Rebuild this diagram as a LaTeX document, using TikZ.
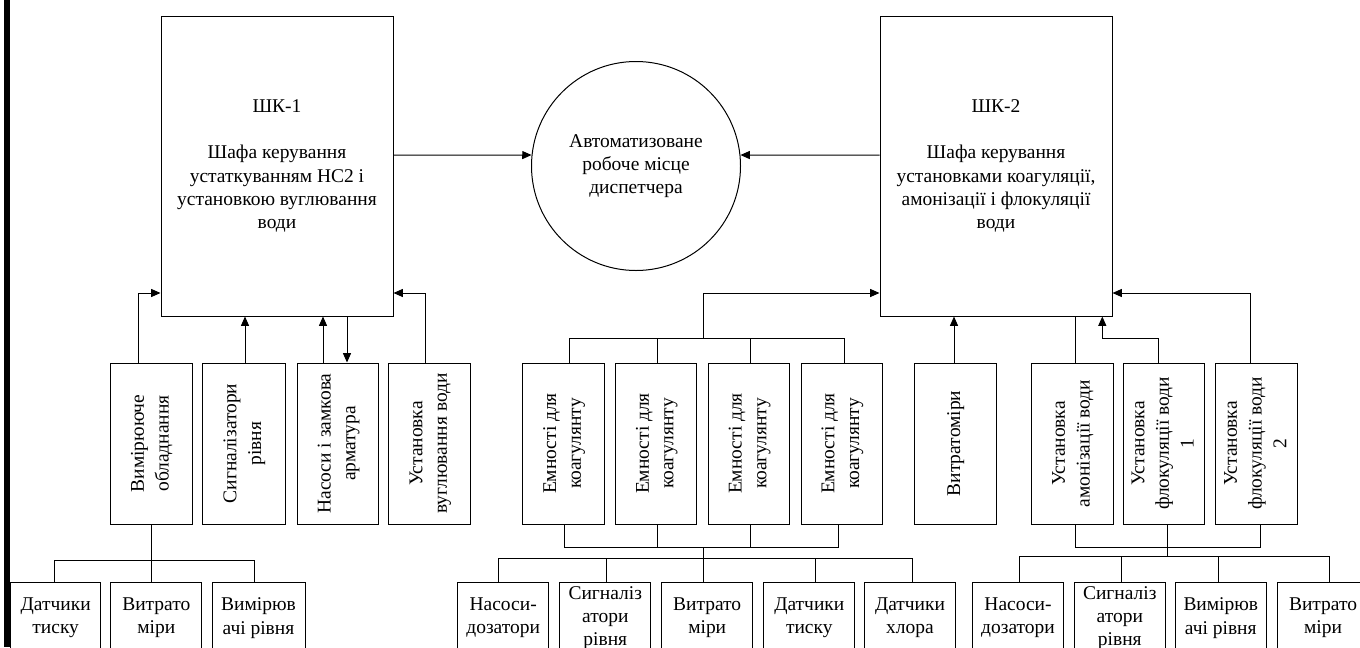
\documentclass[tikz,border=0pt]{standalone}
\usepackage{fontspec}
\usepackage{graphicx}
\setmainfont{Liberation Serif}
\usetikzlibrary{arrows.meta}
\tikzset{
  txt/.style={font=\fontsize{14.6}{17.5}\selectfont},
  bx/.style 2 args={draw, line width=0.75pt, minimum width=#1*0.75pt, minimum height=#2*0.75pt, inner sep=0pt, align=center, txt},
  ln/.style={line width=0.75pt},
  arr/.style={ln, -{Triangle[length=7pt,width=6pt]}},
}
\newcommand{\vtxt}[1]{\rotatebox{90}{\fontsize{14.6}{18.5}\selectfont\begin{tabular}{@{}c@{}}#1\end{tabular}}}
\begin{document}
\begin{tikzpicture}[x=0.75pt,y=-0.75pt]
\useasboundingbox (0,0) rectangle (1360,647);
\clip (0,0) rectangle (1360,647);
\fill (4.3,0) rectangle (10,647);

% top row
\node[bx={232}{300}] (shk1) at (277,166) {ШК-1\\[17.5pt]Шафа керування\\устаткуванням НС2 і\\установкою вуглювання\\води};
\node[draw, ln, circle, minimum size=209*0.75pt, inner sep=0pt, align=center, txt] (circ) at (636,166) {Автоматизоване\\робоче місце\\диспетчера};
\node[bx={232}{300}] (shk2) at (996,166) {ШК-2\\[17.5pt]Шафа керування\\установками коагуляції,\\амонізації і флокуляції\\води};

% middle row
\node[bx={81.5}{161}] (m1) at (151.3,443.5) {\vtxt{Вимірююче\\обладнання}};
\node[bx={83.5}{161}] (m2) at (243.8,443.5) {\vtxt{Сигналізатори\\рівня}};
\node[bx={81.5}{161}] (m3) at (338,443.5) {\vtxt{Насоси і замкова\\арматура}};
\node[bx={81.5}{161}] (m4) at (429.7,443.5) {\vtxt{Установка\\вуглювання води}};
\node[bx={81.5}{161}] (e1) at (563.5,443.5) {\vtxt{Емності для\\коагулянту}};
\node[bx={81.5}{161}] (e2) at (656.2,443.5) {\vtxt{Емності для\\коагулянту}};
\node[bx={81.5}{161}] (e3) at (749,443.5) {\vtxt{Емності для\\коагулянту}};
\node[bx={81.5}{161}] (e4) at (841.8,443.5) {\vtxt{Емності для\\коагулянту}};
\node[bx={81.5}{161}] (vm) at (955.3,443.5) {\vtxt{Витратоміри}};
\node[bx={81.5}{161}] (am) at (1072.3,443.5) {\vtxt{Установка\\амонізації води}};
\node[bx={81.5}{161}] (f1) at (1164,443.5) {\vtxt{Установка\\флокуляції води\\1}};
\node[bx={81.5}{161}] (f2) at (1256.7,443.5) {\vtxt{Установка\\флокуляції води\\2}};

% bottom row
\node[bx={90}{72}] (b1) at (55.7,618) {Датчики\\тиску};
\node[bx={90.7}{72}] (b2) at (156.3,618) {Витрато\\міри};
\node[bx={93}{72}] (b3) at (258.5,618) {Вимірюв\\ачі рівня};
\node[bx={91}{72}] (c1) at (503.2,618) {Насоси-\\дозатори};
\node[bx={91}{72}] (c2) at (605.3,618) {Сигналіз\\атори\\рівня};
\node[bx={91}{72}] (c3) at (707.2,618) {Витрато\\міри};
\node[bx={91}{72}] (c4) at (809.3,618) {Датчики\\тиску};
\node[bx={91}{72}] (c5) at (910,618) {Датчики\\хлора};
\node[bx={91}{72}] (d1) at (1018,618) {Насоси-\\дозатори};
\node[bx={91}{72}] (d2) at (1119.8,618) {Сигналіз\\атори\\рівня};
\node[bx={91}{72}] (d3) at (1220.8,618) {Вимірюв\\ачі рівня};
\node[bx={91}{72}] (d4) at (1323,618) {Витрато\\міри};

% top connectors
\draw[arr] (shk1.east |- 0,155) -- (circ.174);
\draw[arr] (shk2.west |- 0,155) -- (circ.6);

% left group
\draw[arr] (m1.north -| 138,0) |- (shk1.west |- 0,293);
\draw[arr] (m2.north -| 245,0) -- (shk1.south -| 245,0);
\draw[arr] (m3.north -| 323,0) -- (shk1.south -| 323,0);
\draw[arr] (shk1.south -| 347,0) -- (m3.north -| 347,0);
\draw[arr] (m4.north -| 425,0) |- (shk1.east |- 0,293);
\draw[ln] (m1.south -| 151.7,0) -- (b2.north -| 151.7,0);
\draw[ln] (b1.north -| 54,0) -- (54,560) -- (254,560) -- (b3.north -| 254,0);

% middle group
\draw[ln] (e1.north -| 569.3,0) -- (569.3,338.3) -- (844.3,338.3) -- (e4.north -| 844.3,0);
\draw[ln] (e2.north -| 657.3,0) -- (657.3,338.3);
\draw[ln] (e3.north -| 750,0) -- (750,338.3);
\draw[arr] (703.3,338.3) |- (shk2.west |- 0,293);
\draw[ln] (e1.south -| 564.3,0) -- (564.3,547.3) -- (838.3,547.3) -- (e4.south -| 838.3,0);
\draw[ln] (e2.south -| 657.3,0) -- (657.3,547.3);
\draw[ln] (e3.south -| 750,0) -- (750,547.3);
\draw[ln] (703.3,547.3) -- (c3.north -| 703.3,0);
\draw[ln] (c1.north -| 498.3,0) -- (498.3,558.3) -- (912.3,558.3) -- (c5.north -| 912.3,0);
\draw[ln] (c2.north -| 606.3,0) -- (606.3,558.3);
\draw[ln] (c4.north -| 815,0) -- (815,558.3);

% right group
\draw[arr] (vm.north -| 954,0) -- (shk2.south -| 954,0);
\draw[ln] (am.north -| 1075,0) -- (shk2.south -| 1075,0);
\draw[arr] (f1.north -| 1158.3,0) -- (1158.3,338.3) -- (1102.3,338.3) -- (shk2.south -| 1102.3,0);
\draw[arr] (f2.north -| 1250.7,0) |- (shk2.east |- 0,293);
\draw[ln] (am.south -| 1075,0) -- (1075,547.3) -- (1260,547.3) -- (f2.south -| 1260,0);
\draw[ln] (f1.south -| 1167.3,0) -- (1167.3,556.7);
\draw[ln] (d1.north -| 1019.3,0) -- (1019.3,556.7) -- (1329.3,556.7) -- (d4.north -| 1329.3,0);
\draw[ln] (d2.north -| 1121,0) -- (1121,556.7);
\draw[ln] (d3.north -| 1218.3,0) -- (1218.3,556.7);
\end{tikzpicture}
\end{document}
